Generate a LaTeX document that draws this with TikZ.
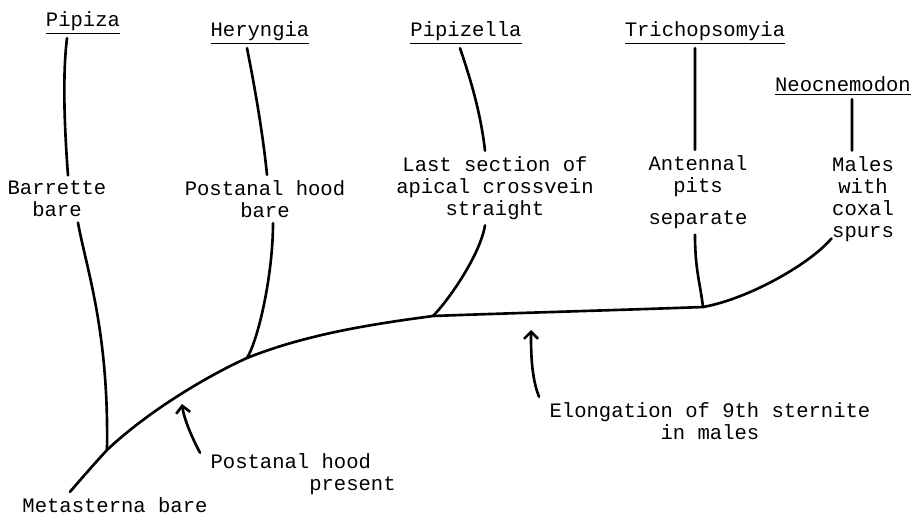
\documentclass[tikz,border=0pt]{standalone}
\usepackage{fontspec}
\setmainfont{Liberation Mono}
\usepackage{tikz}
\usetikzlibrary{arrows.meta}

\begin{document}
\begin{tikzpicture}[x=0.02cm,y=-0.02cm,font=\fontsize{11.7pt}{12.6pt}\selectfont]
\tikzstyle{genus} = [inner sep=2pt]
\tikzstyle{trait} = [align=center, inner sep=3pt]
\tikzstyle{branch} = [line width=1.5pt, line cap=round]
\tikzstyle{pointer} = [line width=1.5pt, line cap=round, -{Straight Barb[length=4pt,width=8pt]}]

\useasboundingbox (0,0) rectangle (913,514);

% genera
\node (pipiza) at (83,23) [genus] {\underline{Pipiza}};
\node (heryngia) at (260,33) [genus] {\underline{Heryngia}};
\node (pipizella) at (466,33) [genus] {\underline{Pipizella}};
\node (tricho) at (705,33) [genus] {\underline{Trichopsomyia}};
\node (neocnemodon) at (843,86) [genus] {\underline{Neocnemodon}};

% characters
\node (barrette) at (57,199) [trait] {Barrette\\bare};
\node (postbare) at (265,199) [trait] {Postanal hood\\bare};
\node (lastsec) at (495,188) [trait] {Last section of\\apical crossvein\\straight};
\node (antennal) at (698,176) [trait] {Antennal\\pits};
\node (separate) at (698,220) [trait] {separate};
\node (males) at (863,199) [trait] {Males\\with\\coxal\\spurs};
\node (elong) at (710,421) [trait] {Elongation of 9th sternite\\in males};
\node (hoodpres) at (205,474) [trait, anchor=west, align=left] {Postanal hood\\\phantom{Postanal}present};
\node (metasterna) at (115,505) [trait] {Metasterna bare};

% junctions on the stem
\coordinate (jPip) at (107,450);
\coordinate (jHer) at (247,358);
\coordinate (jPzl) at (433,316);
\coordinate (jTri) at (703,307);
\coordinate (tipHood) at (182,404);
\coordinate (tipElong) at (531,330);

% stem
\draw[branch] ([xshift=-0.9cm]metasterna.north) .. controls +(12,-14) and +(-12,13) .. (jPip)
    .. controls +(40,-38) and +(-40,18) .. (jHer)
    .. controls +(60,-24) and +(-60,8) .. (jPzl)
    .. controls +(80,-3) and +(-80,3) .. (jTri)
    .. controls +(45,-8) and +(-22,26) .. ([xshift=0.1cm,yshift=0.18cm]males.south west);

% branches
\draw[branch] ([xshift=-0.32cm]pipiza.south) .. controls +(-5,40) and +(-3,-40) .. ([xshift=0.22cm]barrette.north);
\draw[branch] ([xshift=0.42cm]barrette.south) .. controls +(8,45) and +(2,-120) .. (jPip);
\draw[branch] ([xshift=-0.26cm]heryngia.south) .. controls +(8,40) and +(-4,-40) .. ([xshift=0.04cm]postbare.north);
\draw[branch] ([xshift=0.16cm]postbare.south) .. controls +(0,50) and +(12,-20) .. (jHer);
\draw[branch] ([xshift=-0.12cm]pipizella.south) .. controls +(12,35) and +(-4,-35) .. ([xshift=-0.2cm]lastsec.north);
\draw[branch] ([xshift=-0.2cm]lastsec.south) .. controls +(-5,30) and +(15,-15) .. (jPzl);
\draw[branch] ([xshift=-0.2cm]tricho.south) -- ([xshift=-0.06cm]antennal.north);
\draw[branch] ([xshift=-0.06cm]separate.south) .. controls +(0,35) and +(-3,-25) .. (jTri);
\draw[branch] ([xshift=0.18cm]neocnemodon.south) -- ([xshift=-0.22cm]males.north);

% pointers
\draw[pointer] ([xshift=-0.1cm,yshift=-0.1cm]hoodpres.north west) .. controls +(-8,-15) and +(2,15) .. (tipHood);
\draw[pointer] ([xshift=-0.1cm]elong.north west) .. controls +(-8,-20) and +(0,20) .. (tipElong);

\end{tikzpicture}
\end{document}
